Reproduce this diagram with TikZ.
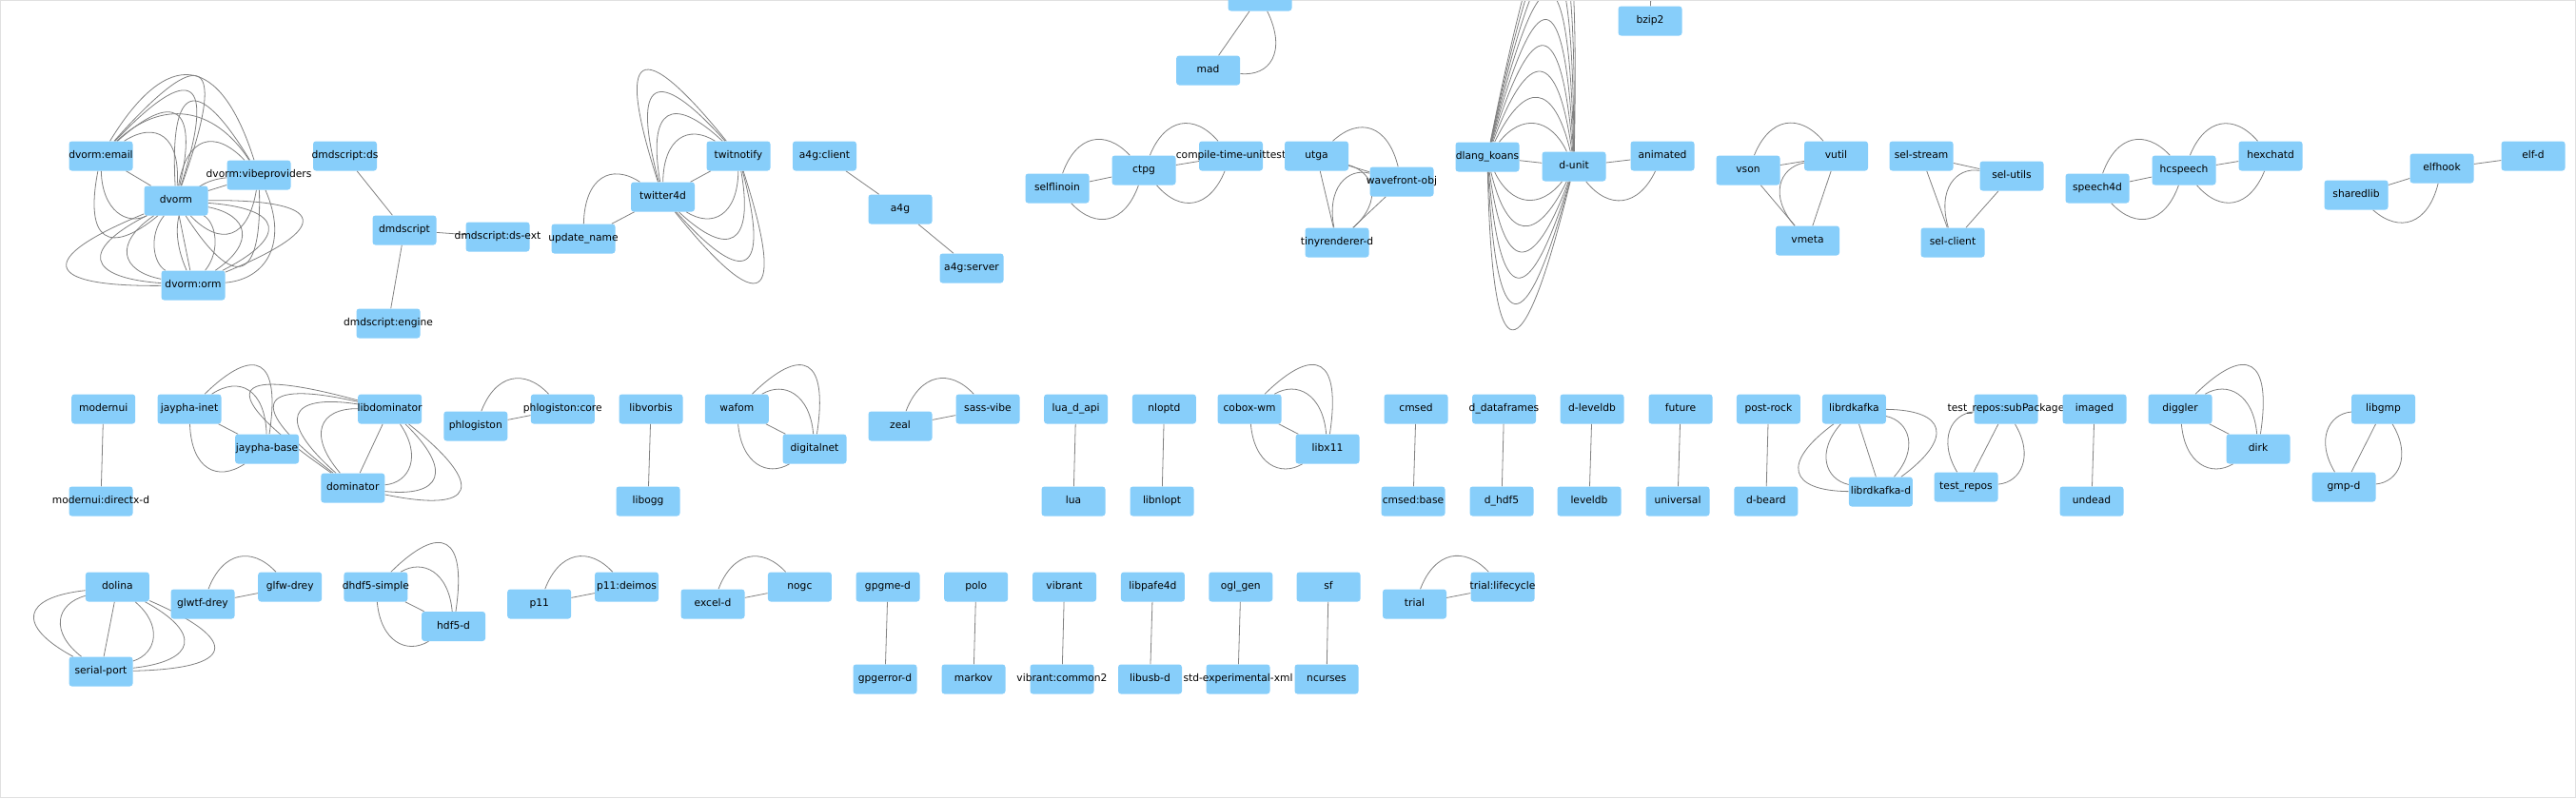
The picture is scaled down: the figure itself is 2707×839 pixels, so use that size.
\documentclass[tikz,border=0pt]{standalone}
\usepackage{fontspec}
\setmainfont{DejaVu Sans}
\usetikzlibrary{calc}
\definecolor{PkgBlue}{RGB}{135,206,250}
\definecolor{LinkGray}{RGB}{128,128,128}
\pgfdeclarelayer{links}
\pgfsetlayers{links,main}
\newcommand{\pk}[1]{\makebox[0pt]{#1}}
% curved links between two packages, one per rad value
\newcommand{\multilink}[3]{%
  \foreach \rr in {#3} {%
    \pgfmathsetmacro{\fac}{sqrt(1+4*(\rr)*(\rr))/3}%
    \pgfmathsetmacro{\anga}{atan(2*(\rr))}%
    \pgfmathsetmacro{\angb}{-atan(2*(\rr))}%
    \draw[linkline] (#1) .. controls ($(#1.center)!\fac!\anga:(#2.center)$) and ($(#2.center)!\fac!\angb:(#1.center)$) .. (#2);
  }}
\tikzset{
  pkg/.style={fill=PkgBlue, rounded corners=3pt, minimum width=67pt, minimum height=31pt, inner sep=0pt,
    text height=8.1pt, text depth=2.5pt, font=\fontsize{10.7}{12}\selectfont},
  linkline/.style={draw=LinkGray, line width=0.8pt}
}
\begin{document}
\begin{tikzpicture}[x=1pt, y=-1pt]
  \useasboundingbox (0,0) rectangle (2707,839);
  \clip (0,0) rectangle (2707,839);
  \draw[black!12] (0.5,0.5) rectangle (2706.5,838.5);

  % first row
  \node[pkg] (dvormemail) at (106,164) {\pk{dvorm:email}};
  \node[pkg] (dvormvibe) at (272,184) {\pk{dvorm:vibeproviders}};
  \node[pkg] (dvorm) at (185,211) {\pk{dvorm}};
  \node[pkg] (dvormorm) at (203,300) {\pk{dvorm:orm}};
  \node[pkg] (dmdds) at (362.5,164) {\pk{dmdscript:ds}};
  \node[pkg] (dmdscript) at (425,242) {\pk{dmdscript}};
  \node[pkg] (dmdext) at (523,249) {\pk{dmdscript:ds-ext}};
  \node[pkg] (dmdengine) at (408,340) {\pk{dmdscript:engine}};
  \node[pkg] (updatename) at (613,251) {\pk{update\_name}};
  \node[pkg] (twitterfd) at (696.5,207) {\pk{twitter4d}};
  \node[pkg] (twitnotify) at (776,164) {\pk{twitnotify}};
  \node[pkg] (afgclient) at (866.5,164) {\pk{a4g:client}};
  \node[pkg] (afg) at (946,220) {\pk{a4g}};
  \node[pkg] (afgserver) at (1021,282) {\pk{a4g:server}};
  \node[pkg] (madtop) at (1324,-4) {};
  \node[pkg] (mad) at (1269.6,74) {\pk{mad}};
  \node[pkg] (selflinoin) at (1111,198) {\pk{selflinoin}};
  \node[pkg] (ctpg) at (1202,179) {\pk{ctpg}};
  \node[pkg] (cttest) at (1293.5,164) {\pk{compile-time-unittest}};
  \node[pkg] (utga) at (1383.5,164) {\pk{utga}};
  \node[pkg] (wavefront) at (1473,191) {\pk{wavefront-obj}};
  \node[pkg] (tinyrend) at (1405,255) {\pk{tinyrenderer-d}};
  \node[pkg] (koans) at (1563,165) {\pk{dlang\_koans}};
  \node[pkg] (dunit) at (1654,175) {\pk{d-unit}};
  \node[pkg] (animated) at (1747,164) {\pk{animated}};
  \node[pkg] (bziptwo) at (1734,22) {\pk{bzip2}};
  \coordinate (bzipup) at (1737,-80);
  \node[pkg] (vson) at (1837,179) {\pk{vson}};
  \node[pkg] (vutil) at (1929.5,164) {\pk{vutil}};
  \node[pkg] (vmeta) at (1899.5,253) {\pk{vmeta}};
  \node[pkg] (selstream) at (2019,164) {\pk{sel-stream}};
  \node[pkg] (selutils) at (2114,185) {\pk{sel-utils}};
  \node[pkg] (selclient) at (2052,255) {\pk{sel-client}};
  \node[pkg] (speechfd) at (2204,198) {\pk{speech4d}};
  \node[pkg] (hcspeech) at (2295,179) {\pk{hcspeech}};
  \node[pkg] (hexchatd) at (2386,164) {\pk{hexchatd}};
  \node[pkg] (sharedlib) at (2476,205) {\pk{sharedlib}};
  \node[pkg] (elfhook) at (2566,177) {\pk{elfhook}};
  \node[pkg] (elfd) at (2662,164) {\pk{elf-d}};

  % second row
  \node[pkg] (modernui) at (108.7,430) {\pk{modernui}};
  \node[pkg] (moddirectx) at (106,527) {\pk{modernui:directx-d}};
  \node[pkg] (jinet) at (199,430) {\pk{jaypha-inet}};
  \node[pkg] (jbase) at (280.6,472) {\pk{jaypha-base}};
  \node[pkg] (libdom) at (409.6,430) {\pk{libdominator}};
  \node[pkg] (dominator) at (370.8,513) {\pk{dominator}};
  \node[pkg] (phlog) at (499.8,448) {\pk{phlogiston}};
  \node[pkg] (phlogcore) at (591.3,430) {\pk{phlogiston:core}};
  \node[pkg] (libvorbis) at (684,430) {\pk{libvorbis}};
  \node[pkg] (libogg) at (681,527) {\pk{libogg}};
  \node[pkg] (wafom) at (774.3,430) {\pk{wafom}};
  \node[pkg] (digitalnet) at (856,472) {\pk{digitalnet}};
  \node[pkg] (zeal) at (946,448) {\pk{zeal}};
  \node[pkg] (sassvibe) at (1038,430) {\pk{sass-vibe}};
  \node[pkg] (luadapi) at (1130.6,430) {\pk{lua\_d\_api}};
  \node[pkg] (lua) at (1128,527) {\pk{lua}};
  \node[pkg] (nloptd) at (1223.4,430) {\pk{nloptd}};
  \node[pkg] (libnlopt) at (1221,527) {\pk{libnlopt}};
  \node[pkg] (coboxwm) at (1313,430) {\pk{cobox-wm}};
  \node[pkg] (libxeleven) at (1395,472) {\pk{libx11}};
  \node[pkg] (cmsed) at (1488,430) {\pk{cmsed}};
  \node[pkg] (cmsedbase) at (1485,527) {\pk{cmsed:base}};
  \node[pkg] (ddataframes) at (1580.5,430) {\pk{d\_dataframes}};
  \node[pkg] (dhdffive) at (1578,527) {\pk{d\_hdf5}};
  \node[pkg] (dleveldb) at (1673,430) {\pk{d-leveldb}};
  \node[pkg] (leveldb) at (1670,527) {\pk{leveldb}};
  \node[pkg] (future) at (1766,430) {\pk{future}};
  \node[pkg] (universal) at (1763,527) {\pk{universal}};
  \node[pkg] (postrock) at (1858.4,430) {\pk{post-rock}};
  \node[pkg] (dbeard) at (1855.8,527) {\pk{d-beard}};
  \node[pkg] (librdkafka) at (1948.4,430) {\pk{librdkafka}};
  \node[pkg] (librdkafkad) at (1976.4,517) {\pk{librdkafka-d}};
  \node[pkg] (trsub) at (2108,430) {\pk{test\_repos:subPackage}};
  \node[pkg] (trepos) at (2066,512) {\pk{test\_repos}};
  \node[pkg] (imaged) at (2201,430) {\pk{imaged}};
  \node[pkg] (undead) at (2198,527) {\pk{undead}};
  \node[pkg] (diggler) at (2291,430) {\pk{diggler}};
  \node[pkg] (dirk) at (2373,472) {\pk{dirk}};
  \node[pkg] (libgmp) at (2504.5,430) {\pk{libgmp}};
  \node[pkg] (gmpd) at (2463,512) {\pk{gmp-d}};

  % third row
  \node[pkg] (dolina) at (123.4,617) {\pk{dolina}};
  \node[pkg] (serialport) at (106,706) {\pk{serial-port}};
  \node[pkg] (glwtf) at (213,635) {\pk{glwtf-drey}};
  \node[pkg] (glfw) at (304.7,617) {\pk{glfw-drey}};
  \node[pkg] (dhdfsimple) at (394.9,617) {\pk{dhdf5-simple}};
  \node[pkg] (hdffived) at (476.6,658.5) {\pk{hdf5-d}};
  \node[pkg] (peleven) at (566.7,635) {\pk{p11}};
  \node[pkg] (pdeimos) at (658.5,617) {\pk{p11:deimos}};
  \node[pkg] (exceld) at (749,635) {\pk{excel-d}};
  \node[pkg] (nogc) at (840.4,617) {\pk{nogc}};
  \node[pkg] (gpgmed) at (933,617) {\pk{gpgme-d}};
  \node[pkg] (gpgerrord) at (930,714) {\pk{gpgerror-d}};
  \node[pkg] (polo) at (1025.7,617) {\pk{polo}};
  \node[pkg] (markov) at (1023,714) {\pk{markov}};
  \node[pkg] (vibrant) at (1118.5,617) {\pk{vibrant}};
  \node[pkg] (vibrantcommon) at (1116,714) {\pk{vibrant:common2}};
  \node[pkg] (libpafe) at (1211.4,617) {\pk{libpafe4d}};
  \node[pkg] (libusbd) at (1208.5,714) {\pk{libusb-d}};
  \node[pkg] (oglgen) at (1303.8,617) {\pk{ogl\_gen}};
  \node[pkg] (stdxml) at (1301,714) {\pk{std-experimental-xml}};
  \node[pkg] (sf) at (1396,617) {\pk{sf}};
  \node[pkg] (ncurses) at (1394,714) {\pk{ncurses}};
  \node[pkg] (trial) at (1486.5,635) {\pk{trial}};
  \node[pkg] (triallife) at (1579,617) {\pk{trial:lifecycle}};

  \begin{pgfonlayer}{links}
    % straight links
    \foreach \a/\b in {dvormemail/dvorm, dvorm/dvormvibe, dvorm/dvormorm,
        dmdds/dmdscript, dmdscript/dmdext, dmdscript/dmdengine,
        updatename/twitterfd, twitterfd/twitnotify, afgclient/afg, afg/afgserver,
        mad/madtop, selflinoin/ctpg, ctpg/cttest, utga/wavefront, utga/tinyrend,
        wavefront/tinyrend, koans/dunit, dunit/animated, bziptwo/bzipup,
        vson/vutil, vson/vmeta, vutil/vmeta, selstream/selutils, selstream/selclient,
        selutils/selclient, speechfd/hcspeech, hcspeech/hexchatd, sharedlib/elfhook,
        elfhook/elfd,
        modernui/moddirectx, jinet/jbase, libdom/dominator, phlog/phlogcore,
        libvorbis/libogg, wafom/digitalnet, zeal/sassvibe, luadapi/lua,
        nloptd/libnlopt, coboxwm/libxeleven, cmsed/cmsedbase, ddataframes/dhdffive,
        dleveldb/leveldb, future/universal, postrock/dbeard, librdkafka/librdkafkad,
        trsub/trepos, imaged/undead, diggler/dirk, libgmp/gmpd,
        dolina/serialport, glwtf/glfw, dhdfsimple/hdffived, peleven/pdeimos,
        exceld/nogc, gpgmed/gpgerrord, polo/markov, vibrant/vibrantcommon,
        libpafe/libusbd, oglgen/stdxml, sf/ncurses, trial/triallife}
      \draw[linkline] (\a) -- (\b);

    % curved links
    \multilink{dvormemail}{dvorm}{1.0,1.6,2.2,2.6,-0.8,-1.4}
    \multilink{dvorm}{dvormvibe}{1.0,2.0,-1.0,-1.8}
    \multilink{dvormemail}{dvormvibe}{0.6,1.1}
    \multilink{dvorm}{dvormorm}{0.6,1.2,1.8,2.6,-0.6,-1.2,-1.8,-2.6}
    \multilink{dvormvibe}{dvormorm}{0.7,-0.7}
    \multilink{twitterfd}{twitnotify}{0.9,1.5,2.1,2.7,-0.9,-1.5,-2.1,-2.7}
    \multilink{updatename}{twitterfd}{0.9}
    \multilink{mad}{madtop}{-0.9}
    \multilink{selflinoin}{ctpg}{0.82,-0.82}
    \multilink{ctpg}{cttest}{0.82,-0.82}
    \multilink{utga}{wavefront}{0.85}
    \multilink{utga}{tinyrend}{0.9}
    \multilink{wavefront}{tinyrend}{-0.8}
    \multilink{koans}{dunit}{0.8,1.4,2.0,2.6,3.2,3.8,4.4,5.0,5.6,-0.8,-1.4,-2.0,-2.6,-3.2,-3.8}
    \multilink{dunit}{animated}{-0.8}
    \multilink{vson}{vutil}{0.82}
    \multilink{vutil}{vmeta}{-0.85}
    \multilink{selutils}{selclient}{-0.8}
    \multilink{speechfd}{hcspeech}{0.82,-0.82}
    \multilink{hcspeech}{hexchatd}{0.82,-0.82}
    \multilink{sharedlib}{elfhook}{-0.83}
    \multilink{jinet}{jbase}{0.9,1.5,-0.9}
    \multilink{libdom}{dominator}{0.85,1.45,2.1,-1.1,-1.7,-2.3,-2.9}
    \multilink{phlog}{phlogcore}{0.8}
    \multilink{wafom}{digitalnet}{0.8,1.5,-0.8}
    \multilink{zeal}{sassvibe}{0.8}
    \multilink{coboxwm}{libxeleven}{0.8,1.5,-0.8}
    \multilink{librdkafka}{librdkafkad}{0.85,1.5,-0.85,-1.5}
    \multilink{trsub}{trepos}{0.8,-0.8}
    \multilink{diggler}{dirk}{0.8,1.5,-0.8}
    \multilink{libgmp}{gmpd}{0.8,-0.8}
    \multilink{dolina}{serialport}{0.9,1.6,2.3,-1.0,-1.6}
    \multilink{glwtf}{glfw}{0.8}
    \multilink{dhdfsimple}{hdffived}{0.8,1.5,-0.8}
    \multilink{peleven}{pdeimos}{0.8}
    \multilink{exceld}{nogc}{0.8}
    \multilink{trial}{triallife}{0.8}
  \end{pgfonlayer}
\end{tikzpicture}
\end{document}
